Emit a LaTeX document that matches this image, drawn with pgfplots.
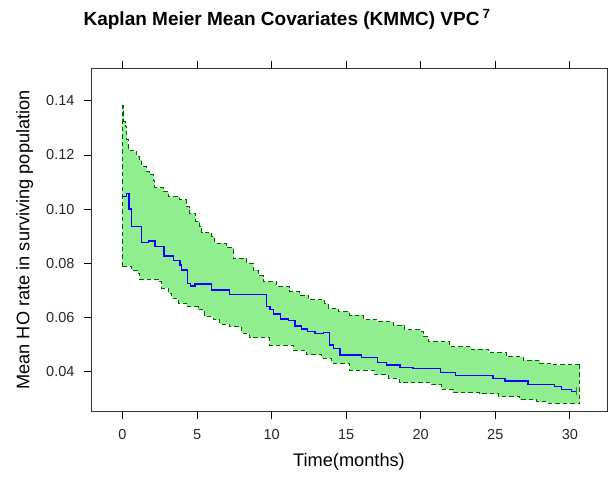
\documentclass[border=0pt]{standalone}
\usepackage{pgfplots}
\pgfplotsset{compat=1.18}
\usepgfplotslibrary{fillbetween}
\usepackage{fontspec}
\setmainfont{Liberation Sans}
\definecolor{bandfill}{HTML}{90EE90}
\definecolor{banddash}{HTML}{006400}
\definecolor{medblue}{HTML}{0000FF}
\begin{document}
\begin{tikzpicture}
\begin{axis}[
  at={(0,0)}, anchor=south west,
  scale only axis, width=516pt, height=343.7pt,
  xmin=-2.11, xmax=32.49, ymin=0.02524, ymax=0.15207,
  xtick={0,5,10,15,20,25,30},
  ytick={0.04,0.06,0.08,0.10,0.12,0.14},
  yticklabels={0.04,0.06,0.08,0.10,0.12,0.14},
  xtick pos=both, xticklabel pos=bottom,
  ytick pos=left,
  tick align=outside, major tick length=7pt,
  every tick/.style={black, line width=0.8pt},
  axis line style={black!80, line width=0.8pt},
  /pgf/number format/assume math mode=true,
  tick label style={font=\fontsize{14.5}{16}\selectfont, black!85},
  xticklabel style={yshift=-7pt},
  yticklabel style={xshift=-6pt},
  label style={font=\fontsize{18.2}{20}\selectfont},
  xlabel={Time(months)},
  ylabel={Mean HO rate in surviving population},
  xlabel style={at={(axis description cs:0.5,0)}, anchor=base, yshift=-55pt},
  ylabel style={at={(axis description cs:0,0.5)}, anchor=base, yshift=61.5pt},
  clip=false,
]
\addplot[name path=upper, draw=none, const plot] coordinates {
(0,0.1384) (0.1,0.1323) (0.17,0.1304) (0.28,0.1255) (0.39,0.1218) (0.73,0.1212)
(0.95,0.1193) (1.17,0.1181) (1.29,0.1156) (1.62,0.1138) (1.84,0.1126) (2.07,0.1107)
(2.18,0.1079) (2.74,0.1064) (3.07,0.1046) (3.85,0.1034) (4.26,0.1009) (4.52,0.0985)
(4.9,0.0956) (5.19,0.0935) (5.31,0.0913) (5.98,0.0898) (6.2,0.0874) (6.95,0.0858)
(7.43,0.0818) (8.32,0.0800) (8.77,0.0775) (9.1,0.0754) (9.44,0.0732) (10.33,0.0714)
(11.23,0.0695) (11.9,0.0683) (12.45,0.0665) (13.57,0.0652) (13.79,0.0634) (14.46,0.0622)
(15.25,0.0609) (16.14,0.0593) (17.04,0.0585) (18.15,0.0572) (18.93,0.0554) (19.94,0.0548)
(20.16,0.0529) (20.5,0.0511) (21.95,0.0492) (23.4,0.0483) (24.52,0.0470) (25.75,0.0455)
(26.86,0.0443) (27.98,0.0431) (28.77,0.0425) (30.66,0.0425)
};
\addplot[name path=lower, draw=none, const plot] coordinates {
(0,0.0790) (0.61,0.0775) (1.06,0.0763) (1.17,0.0741) (2.51,0.0732) (2.63,0.0708)
(3.07,0.0689) (3.3,0.0671) (3.74,0.0652) (4.3,0.0640) (5.08,0.0628) (5.53,0.0603)
(6.09,0.0591) (6.53,0.0576) (7.2,0.0566) (7.99,0.0542) (8.55,0.0526) (9.89,0.0498)
(11.45,0.0480) (12.35,0.0462) (13.35,0.0449) (14.02,0.0431) (15.25,0.0406) (16.92,0.0388)
(17.82,0.0376) (18.6,0.0360) (20.72,0.0351) (21.39,0.0335) (22.17,0.0323) (23.96,0.0318)
(25.19,0.0308) (26.64,0.0296) (27.76,0.0289) (28.5,0.0283) (30.66,0.0283)
};
\addplot[bandfill] fill between[of=upper and lower];
\addplot[banddash, line width=1pt, dash pattern=on 4.5pt off 3pt, const plot] coordinates {
(0,0.1384) (0.1,0.1323) (0.17,0.1304) (0.28,0.1255) (0.39,0.1218) (0.73,0.1212)
(0.95,0.1193) (1.17,0.1181) (1.29,0.1156) (1.62,0.1138) (1.84,0.1126) (2.07,0.1107)
(2.18,0.1079) (2.74,0.1064) (3.07,0.1046) (3.85,0.1034) (4.26,0.1009) (4.52,0.0985)
(4.9,0.0956) (5.19,0.0935) (5.31,0.0913) (5.98,0.0898) (6.2,0.0874) (6.95,0.0858)
(7.43,0.0818) (8.32,0.0800) (8.77,0.0775) (9.1,0.0754) (9.44,0.0732) (10.33,0.0714)
(11.23,0.0695) (11.9,0.0683) (12.45,0.0665) (13.57,0.0652) (13.79,0.0634) (14.46,0.0622)
(15.25,0.0609) (16.14,0.0593) (17.04,0.0585) (18.15,0.0572) (18.93,0.0554) (19.94,0.0548)
(20.16,0.0529) (20.5,0.0511) (21.95,0.0492) (23.4,0.0483) (24.52,0.0470) (25.75,0.0455)
(26.86,0.0443) (27.98,0.0431) (28.77,0.0425) (30.66,0.0425)
};
\addplot[banddash, line width=1pt, dash pattern=on 4.5pt off 3pt, const plot] coordinates {
(0,0.0790) (0.61,0.0775) (1.06,0.0763) (1.17,0.0741) (2.51,0.0732) (2.63,0.0708)
(3.07,0.0689) (3.3,0.0671) (3.74,0.0652) (4.3,0.0640) (5.08,0.0628) (5.53,0.0603)
(6.09,0.0591) (6.53,0.0576) (7.2,0.0566) (7.99,0.0542) (8.55,0.0526) (9.89,0.0498)
(11.45,0.0480) (12.35,0.0462) (13.35,0.0449) (14.02,0.0431) (15.25,0.0406) (16.92,0.0388)
(17.82,0.0376) (18.6,0.0360) (20.72,0.0351) (21.39,0.0335) (22.17,0.0323) (23.96,0.0318)
(25.19,0.0308) (26.64,0.0296) (27.76,0.0289) (28.5,0.0283) (30.66,0.0283)
};
\addplot[banddash, line width=1pt, dash pattern=on 4.5pt off 3pt] coordinates {(0,0.0790) (0,0.1384)};
\addplot[banddash, line width=1pt, dash pattern=on 4.5pt off 3pt] coordinates {(30.66,0.0425) (30.66,0.0283)};
\addplot[medblue, line width=1.3pt, const plot] coordinates {
(0,0.1046) (0.28,0.1058) (0.44,0.1000) (0.61,0.0935) (1.28,0.0878) (1.73,0.0882)
(2.18,0.0862) (2.79,0.0827) (3.43,0.0810) (3.85,0.0794) (3.97,0.0775) (4.35,0.0726)
(4.57,0.0716) (4.86,0.0724) (5.98,0.0701) (7.2,0.0686) (9.66,0.0640) (9.89,0.0630)
(10.15,0.0613) (10.6,0.0594) (11.11,0.0588) (11.56,0.0569) (12.01,0.0558) (12.39,0.0548)
(12.9,0.0542) (13.46,0.0545) (13.86,0.0498) (14.13,0.0486) (14.58,0.0462) (16.03,0.0452)
(17.1,0.0433) (17.71,0.0425) (18.6,0.0416) (19.49,0.0413) (21.33,0.0396) (22.35,0.0385)
(24.85,0.0376) (25.64,0.0366) (27.2,0.0353) (28.99,0.0345) (29.44,0.0335) (30.1,0.0326)
(30.44,0.0326)
};
\addplot[black!60, line width=0.8pt] coordinates {(30.44,0.0345) (30.44,0.0315)};
\node[anchor=base, font=\fontsize{19}{22}\selectfont\bfseries] at (rel axis cs:0.38,1.125)
  {Kaplan Meier Mean Covariates (KMMC) VPC\,\textsuperscript{7}};
\end{axis}
\pgfresetboundingbox
\path[use as bounding box] (-91pt,-66.3pt) rectangle (518pt,411.7pt);
\end{tikzpicture}
\end{document}
